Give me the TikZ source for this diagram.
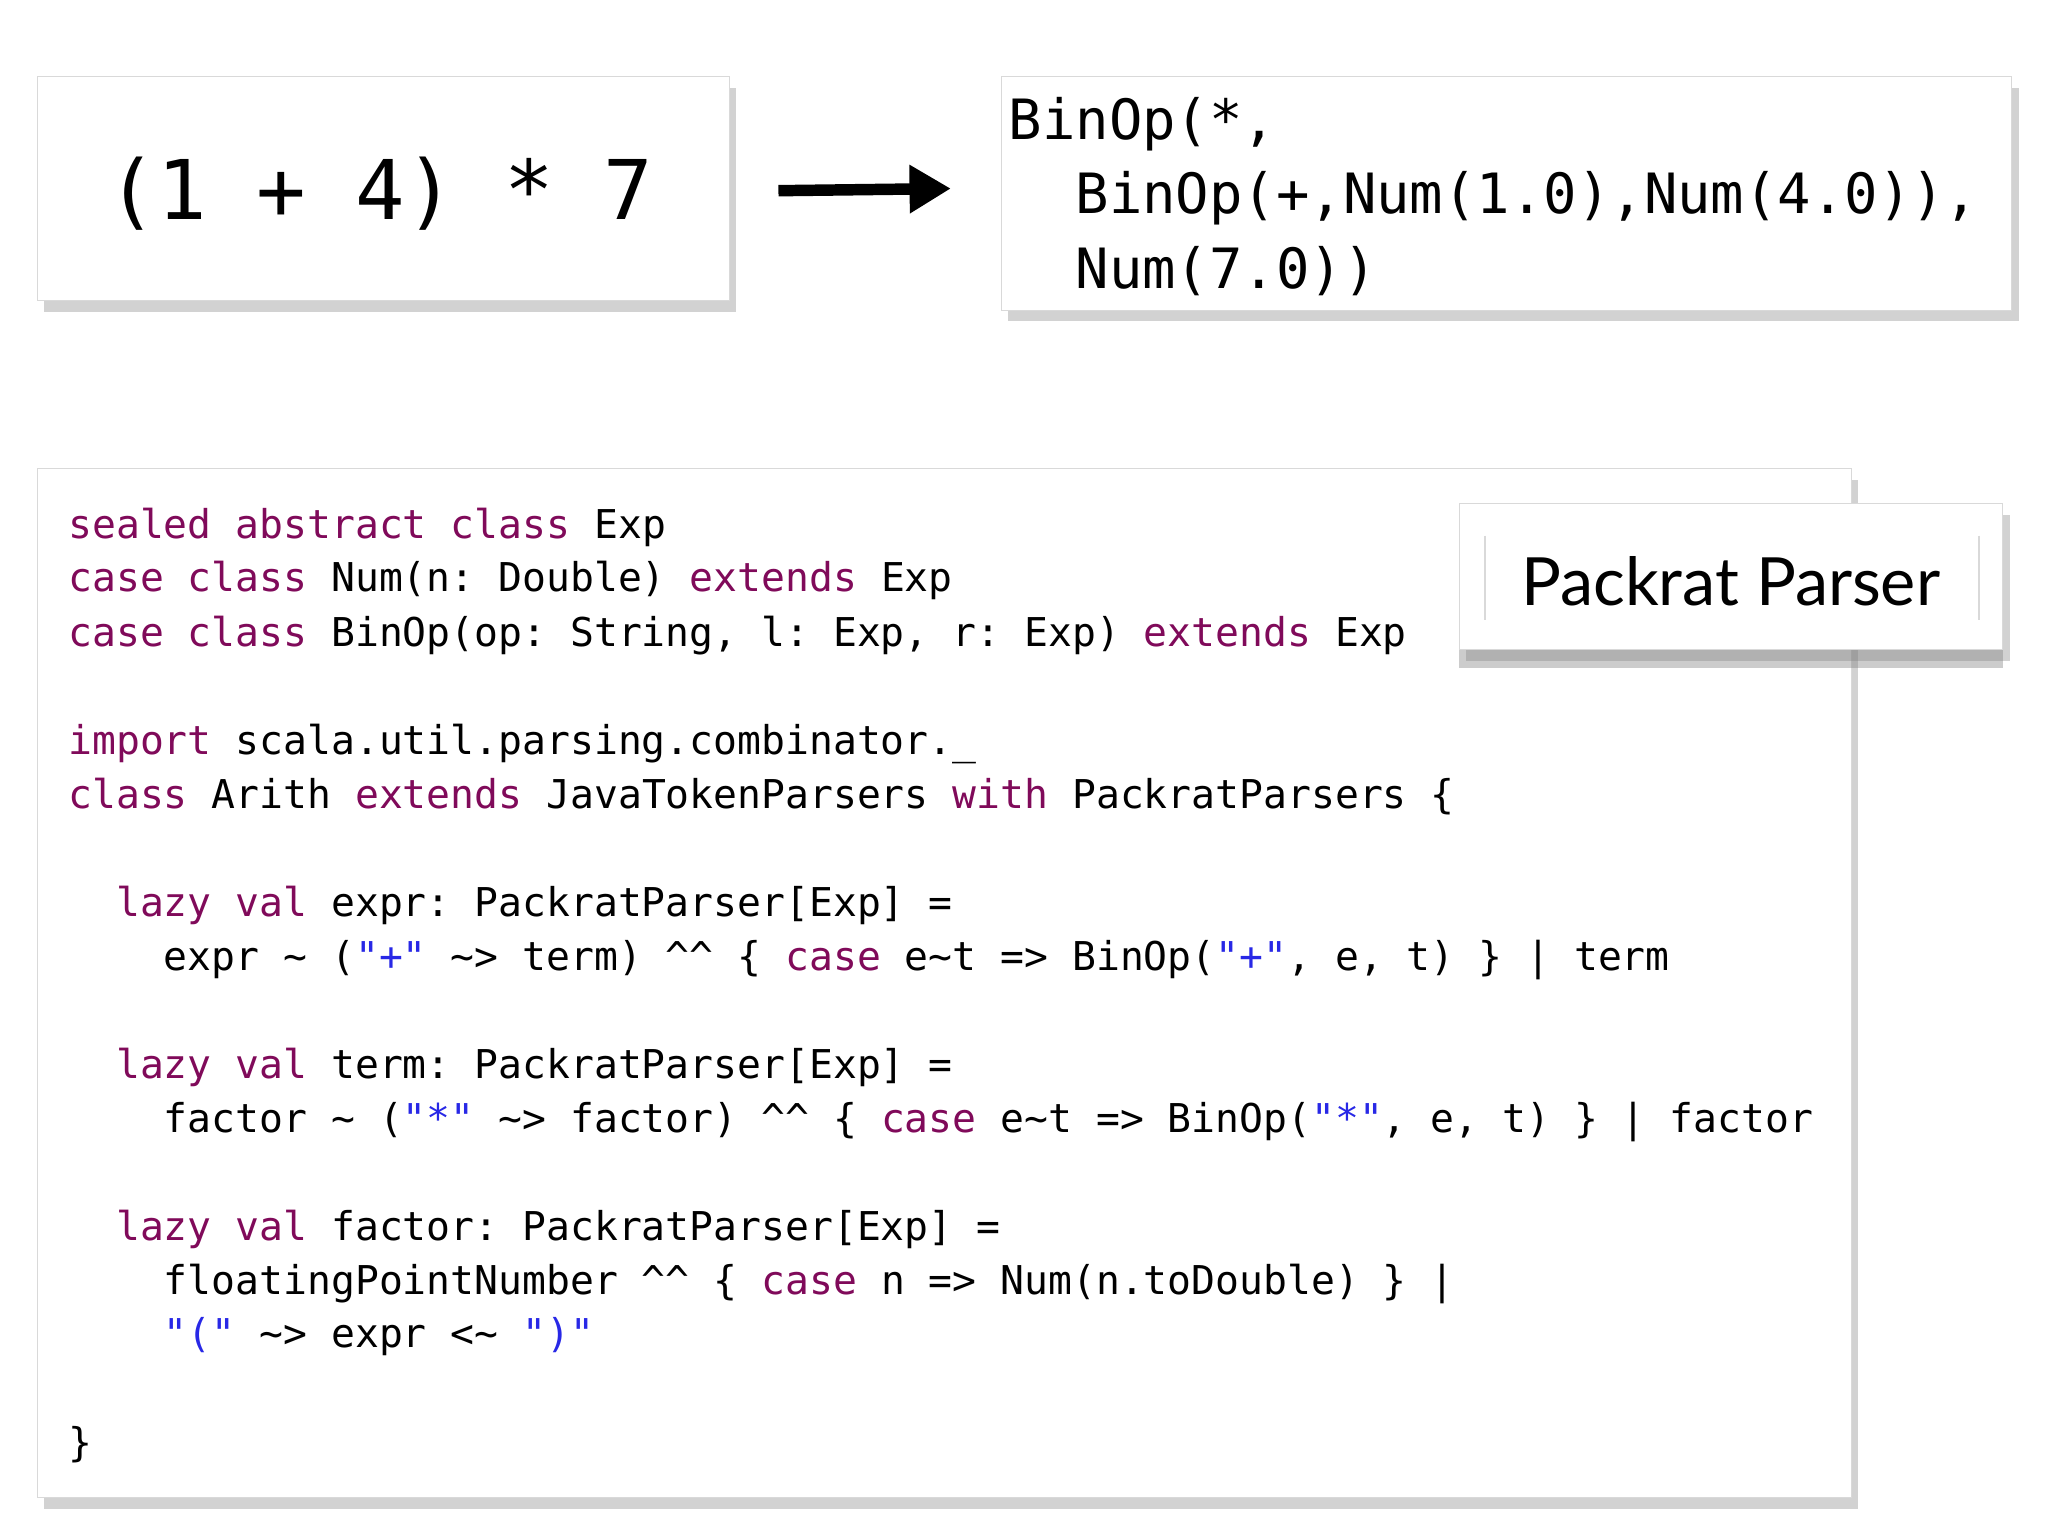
\documentclass[tikz,border=0pt]{standalone}
\usepackage{fontspec}
\setmonofont{DejaVu Sans Mono}
\newfontfamily\titlefont{Lato}
\usetikzlibrary{shadows,arrows.meta}
\definecolor{kwc}{RGB}{128,10,90}
\definecolor{strc}{RGB}{40,40,230}
\newcommand{\kw}[1]{\textcolor{kwc}{#1}}
\newcommand{\strg}[1]{\textcolor{strc}{#1}}
\newcommand{\tl}{\textasciitilde}
\newcommand{\ct}{\textasciicircum\textasciicircum}
\begin{document}
\begin{tikzpicture}[x=0.02cm,y=-0.02cm,
  card/.style={draw=gray!30,fill=white,drop shadow={shadow xshift=3pt,shadow yshift=-5pt,opacity=0.35}},
  code/.style={anchor=base west,inner sep=0pt,font=\ttfamily\fontsize{17.3}{20}\selectfont}]
\useasboundingbox (0,0) rectangle (1568,1176);
\fill[white] (0,0) rectangle (1568,1176);
\node[card,minimum width=530*0.02cm,minimum height=172*0.02cm,anchor=north west] (src) at (28,58) {};
\node[font=\ttfamily\fontsize{35.9}{40}\selectfont,anchor=base west,inner sep=0pt] (srct) at (82,168) {(1 + 4) * 7};
\node[card,minimum width=774*0.02cm,minimum height=179*0.02cm,anchor=north west] (res) at (766,58) {};
\node[font=\ttfamily\fontsize{24.2}{32.5}\selectfont,anchor=north west,align=left,inner sep=0pt] (rest) at (772,74) {BinOp(*,\\\ \ BinOp(+,Num(1.0),Num(4.0)),\\\ \ Num(7.0))};
\draw[line width=5pt,-{Triangle[length=18pt,width=20pt]}] (596,146) -- (src.east -| 728,146) coordinate (ae);
\node[card,minimum width=1389*0.02cm,minimum height=788*0.02cm,anchor=north west] (cb) at (28,358) {};
\node[code] at (52,412) {\kw{sealed abstract class} Exp};
\node[code] at (52,453) {\kw{case class} Num(n: Double) \kw{extends} Exp};
\node[code] at (52,495) {\kw{case class} BinOp(op: String, l: Exp, r: Exp) \kw{extends} Exp};
\node[code] at (52,578) {\kw{import} scala.util.parsing.combinator.\_};
\node[code] at (52,619) {\kw{class} Arith \kw{extends} JavaTokenParsers \kw{with} PackratParsers \{};
\node[code] at (52,702) {\ \ \kw{lazy val} expr: PackratParser[Exp] =};
\node[code] at (52,743) {\ \ \ \ expr \tl\ (\strg{"+"} \tl> term) \ct\ \{ \kw{case} e\tl t => BinOp(\strg{"+"}, e, t) \} \textbar\ term};
\node[code] at (52,826) {\ \ \kw{lazy val} term: PackratParser[Exp] =};
\node[code] at (52,867) {\ \ \ \ factor \tl\ (\strg{"*"} \tl> factor) \ct\ \{ \kw{case} e\tl t => BinOp(\strg{"*"}, e, t) \} \textbar\ factor};
\node[code] at (52,950) {\ \ \kw{lazy val} factor: PackratParser[Exp] =};
\node[code] at (52,991) {\ \ \ \ floatingPointNumber \ct\ \{ \kw{case} n => Num(n.toDouble) \} \textbar};
\node[code] at (52,1032) {\ \ \ \ \strg{"("} \tl> expr <\tl\ \strg{")"}};
\node[code] at (52,1115) {\}};
\node[card,minimum width=416*0.02cm,minimum height=112*0.02cm,anchor=north west,drop shadow={shadow xshift=0pt,shadow yshift=-8pt,opacity=0.4}] (pp) at (1117,385) {};
\draw[gray!30,line width=1pt] (1137,410) -- (1137,475) (1515,410) -- (1515,475);
\node[font=\titlefont\fontsize{29}{34}\selectfont,inner sep=0pt] (ppt) at (1325,445) {Packrat Parser};
\end{tikzpicture}
\end{document}
